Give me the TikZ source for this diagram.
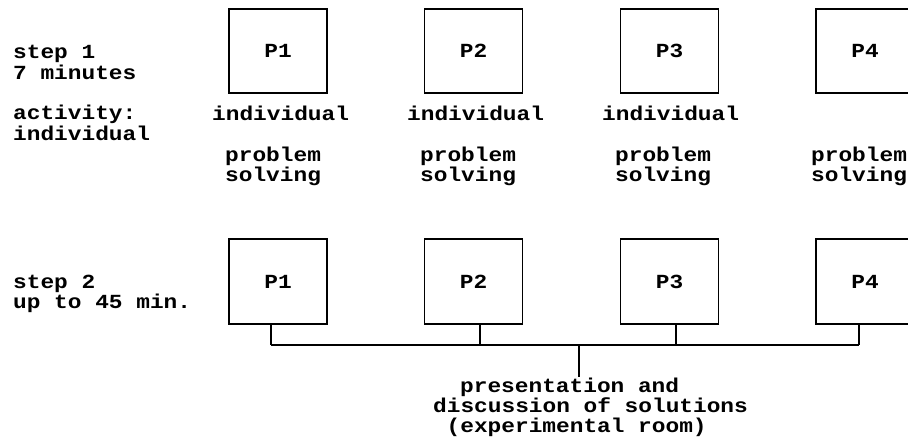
\documentclass[tikz,border=0pt]{standalone}
\usepackage{fontspec}
\setmainfont{Liberation Mono}[FakeStretch=1.14]
\begin{document}
\begin{tikzpicture}[x=1pt,y=-1pt,
  txt/.style={inner sep=0pt,font=\bfseries\fontsize{20}{20}\selectfont},
  lt/.style={txt,anchor=base west},
  pbox/.style={draw,line width=1.4pt,minimum width=98pt,minimum height=84pt,inner sep=0pt,font=\bfseries\fontsize{20}{20}\selectfont},
  wire/.style={line width=1.4pt}]
\path[use as bounding box,clip] (0,0) rectangle (908,440);
% left labels
\node[lt] (s1a) at (13,58) {step 1};
\node[lt] (s1b) at (13,79) {7 minutes};
\node[lt] (s1c) at (13,119) {activity:};
\node[lt] (s1d) at (13,140) {individual};
\node[lt] (s2a) at (13,288) {step 2};
\node[lt] (s2b) at (13,308) {up to 45 min.};
% top row
\node[pbox] (a1) at (278,51) {P1};
\node[pbox] (a2) at (473.5,51) {P2};
\node[pbox] (a3) at (669.5,51) {P3};
\node[pbox] (a4) at (865,51) {P4};
\node[lt] (i1) at (212,120) {individual};
\node[lt] (i2) at (407,120) {individual};
\node[lt] (i3) at (602,120) {individual};
\node[lt] (pa1) at (225,161.5) {problem};
\node[lt] (pb1) at (225,181.5) {solving};
\node[lt] (pa2) at (420,161.5) {problem};
\node[lt] (pb2) at (420,181.5) {solving};
\node[lt] (pa3) at (615,161.5) {problem};
\node[lt] (pb3) at (615,181.5) {solving};
\node[lt] (pa4) at (811,161.5) {problem};
\node[lt] (pb4) at (811,181.5) {solving};
% bottom row
\node[pbox,minimum height=85pt] (b1) at (278,281.5) {P1};
\node[pbox,minimum height=85pt] (b2) at (473.5,281.5) {P2};
\node[pbox,minimum height=85pt] (b3) at (669.5,281.5) {P3};
\node[pbox,minimum height=85pt] (b4) at (865,281.5) {P4};
% connectors
\coordinate (j1) at (271,345);
\coordinate (j2) at (480,345);
\coordinate (j3) at (676,345);
\coordinate (j4) at (859,345);
\coordinate (jc) at (579,345);
\coordinate (jend) at (579,377);
\draw[wire] (b1.south -| j1) -- (j1);
\draw[wire] (b2.south -| j2) -- (j2);
\draw[wire] (b3.south -| j3) -- (j3);
\draw[wire] (b4.south -| j4) -- (j4);
\draw[wire] (j1) -- (j4);
\draw[wire] (jc) -- (jend);
% bottom text
\node[lt] (t1) at (460,392) {presentation and};
\node[lt] (t2) at (433,412) {discussion of solutions};
\node[lt] (t3) at (446.5,432) {(experimental room)};
\end{tikzpicture}
\end{document}
